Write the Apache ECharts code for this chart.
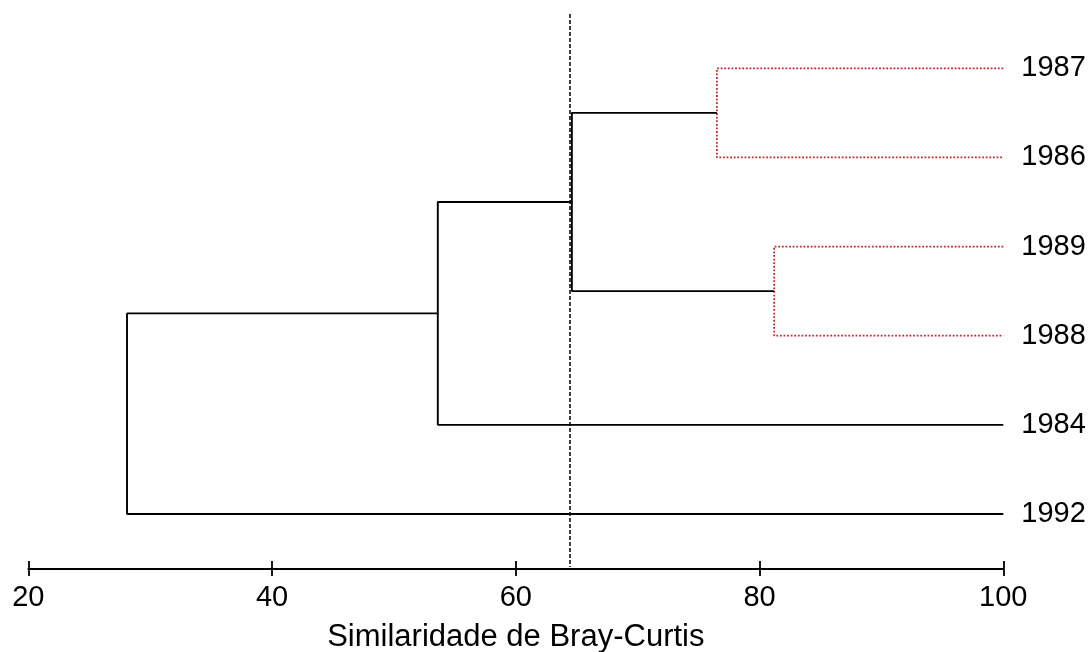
<!DOCTYPE html>
<html>
<head>
<meta charset="utf-8">
<title>Dendrograma Bray-Curtis</title>
<script src="https://cdn.jsdelivr.net/npm/echarts@6/dist/echarts.min.js"></script>
<style>
  html, body { margin: 0; padding: 0; background: #ffffff; }
  #chart { width: 1091px; height: 652px; }
</style>
</head>
<body>
<div id="chart"></div>
<script>
// Leaves, top to bottom
const leaves = ['1987', '1986', '1989', '1988', '1984', '1992'];
// hclust-style merge table: negative = leaf (1-based), positive = earlier merge (1-based)
const mergeLeft = [-1, -3, 1, 3, 4];
const mergeRight = [-2, -4, 2, -5, -6];
// Similarity (%) at which each merge happens
const mergeHeight = [76.5, 81.2, 64.6, 53.6, 28.1];
// Cut level drawn as a dashed reference line
const cutHeight = 64.4;
// Axis ticks
const xTicks = [20, 40, 60, 80, 100];
const leafLevel = 100;

// Merges whose branches to the leaves are drawn dotted red
const highlighted = [0, 1];

// Position of a node (leaf or merge) in data coordinates
const mergePos = [];
function nodePos(id) {
  if (id < 0) return [leafLevel, -id - 1];
  return mergePos[id - 1];
}
mergeHeight.forEach((h, k) => {
  const a = nodePos(mergeLeft[k]);
  const b = nodePos(mergeRight[k]);
  mergePos.push([h, (a[1] + b[1]) / 2]);
});

const blackStyle = { color: '#000000', width: 1.9, type: 'solid' };
const redStyle = { color: '#c0272d', width: 1.8, type: [1.8, 1.8] };

const series = mergeHeight.map((h, k) => {
  const a = nodePos(mergeLeft[k]);
  const b = nodePos(mergeRight[k]);
  return {
    type: 'line',
    data: [[a[0], a[1]], [h, a[1]], [h, b[1]], [b[0], b[1]]],
    symbol: 'none',
    silent: true,
    clip: false,
    lineStyle: highlighted.includes(k) ? redStyle : blackStyle,
    z: highlighted.includes(k) ? 3 : 4
  };
});

// Dashed cut line across the full plot height
series.push({
  type: 'line',
  data: [],
  markLine: {
    silent: true,
    symbol: 'none',
    label: { show: false },
    lineStyle: { color: '#000000', width: 1.5, type: [4, 2] },
    data: [{ xAxis: cutHeight }]
  },
  z: 2
});

const chart = echarts.init(document.getElementById('chart'), null, { renderer: 'canvas' });
const font = '"Liberation Sans", Arial, sans-serif';

const tickStyle = { color: '#000000', width: 1.8 };

chart.setOption({
  animation: false,
  backgroundColor: '#ffffff',
  grid: { left: 28.3, right: 87.7, top: 14, bottom: 85, containLabel: false, outerBoundsMode: 'none' },
  xAxis: [
    {
      type: 'value',
      position: 'bottom',
      offset: 2,
      min: xTicks[0],
      max: xTicks[xTicks.length - 1],
      interval: xTicks[1] - xTicks[0],
      name: 'Similaridade de Bray-Curtis',
      nameLocation: 'middle',
      nameGap: 53,
      nameTextStyle: { fontFamily: font, fontSize: 31, color: '#000000' },
      axisLine: { show: true, onZero: false, lineStyle: { color: '#000000', width: 1.8 } },
      axisTick: { show: true, length: 7, inside: false, lineStyle: tickStyle },
      axisLabel: { show: true, margin: 14, fontFamily: font, fontSize: 29, color: '#000000' },
      splitLine: { show: false }
    },
    {
      type: 'value',
      position: 'bottom',
      offset: 2,
      min: xTicks[0],
      max: xTicks[xTicks.length - 1],
      interval: xTicks[1] - xTicks[0],
      axisLine: { show: false, onZero: false },
      axisTick: { show: true, length: 8, inside: true, lineStyle: tickStyle },
      axisLabel: { show: false },
      splitLine: { show: false }
    }
  ],
  yAxis: {
    type: 'value',
    position: 'right',
    inverse: true,
    min: -0.609,
    max: 5.595,
    axisLine: { show: false },
    axisTick: { show: false },
    splitLine: { show: false },
    axisLabel: {
      show: true,
      customValues: leaves.map((_, i) => i),
      formatter: (v) => leaves[Math.round(v)],
      margin: 18,
      fontFamily: font,
      fontSize: 29,
      color: '#000000'
    }
  },
  series: series
});
</script>
</body>
</html>
